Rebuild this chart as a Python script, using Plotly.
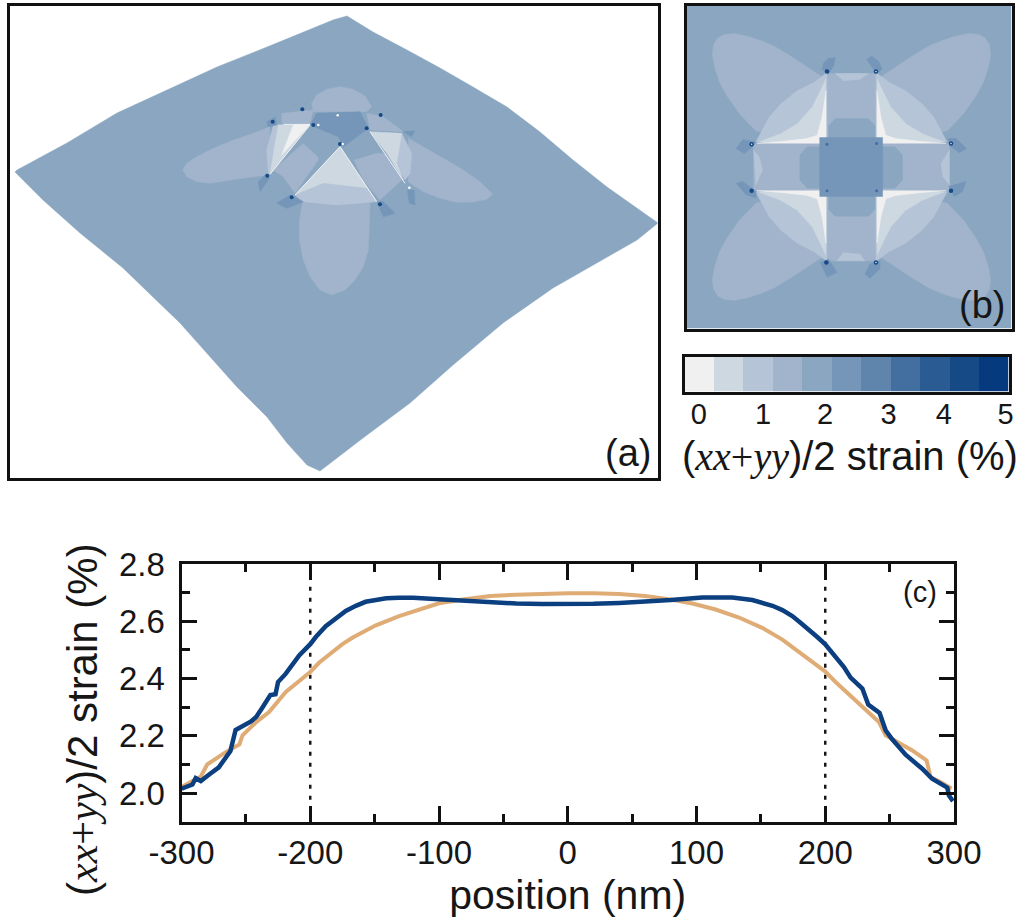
import plotly.graph_objects as go

W, H = 1021, 922
AX_FONT = "Liberation Sans, Arial, sans-serif"
INK = "#161616"

# strain colour levels (0 ... 5 %, 11 steps)
level_colors = ["#f0f0f0", "#ced8e1", "#b5c5d7", "#a1b4cb", "#8aa6c0", "#7596b9",
                "#5f85ad", "#426f9f", "#2a5b92", "#164a87", "#053a7e"]
L0, L1, L2, L3, L4, L5, L6, L7, L8, L9, L10 = level_colors
level_index = list(range(11))
cbar_tick_pos = [0.49, 2.67, 4.77, 6.93, 8.8, 10.9]
cbar_tick_text = ["0", "1", "2", "3", "4", "5"]

# panel (c): line profiles
blue_x = [-300, -291.5, -289, -285, -278.5, -271, -262, -258, -246, -242, -237, -231, -227, -225, -219,
          -208.6, -200, -195.7, -188, -180, -172.4, -164.6, -157, -149, -141, -131, -120, -100, -80, -60, -40,
          -20, 0, 20, 40, 60, 80, 104.5, 127.8, 143.4, 151, 159, 166.7, 174.4, 181, 187.4, 193.8, 199.8, 205.5,
          210.6, 214.5, 219.7, 228.8, 233.4, 242.2, 246.9, 252, 262.4, 275.3, 283, 294.8, 296, 299.2]
blue_y = [2.015, 2.03, 2.052, 2.042, 2.065, 2.09, 2.147, 2.22, 2.25, 2.266, 2.30, 2.342, 2.345, 2.388, 2.417,
          2.481, 2.52, 2.545, 2.583, 2.61, 2.636, 2.654, 2.668, 2.674, 2.68, 2.682, 2.682, 2.677, 2.672, 2.665,
          2.662, 2.66, 2.66, 2.661, 2.664, 2.668, 2.674, 2.683, 2.683, 2.674, 2.665, 2.654, 2.639, 2.618, 2.594,
          2.571, 2.545, 2.52, 2.49, 2.466, 2.44, 2.403, 2.365, 2.309, 2.28, 2.219, 2.188, 2.134, 2.085, 2.05,
          2.019, 1.992, 1.972]
orange_x = [-300, -291.5, -285, -280, -265.6, -255, -252.6, -242, -232, -219, -200, -193, -182.8, -175, -167,
            -158, -149, -131, -115, -100, -80, -60, -40, -20, 0, 20, 40, 60, 80, 96.8, 114.9, 133, 151, 166.7,
            175.7, 184.8, 192.5, 199.8, 208, 215.8, 223.6, 231.4, 241.7, 246.9, 257.2, 267.6, 278.7, 281.8,
            290.9, 298.1]
orange_y = [2.021, 2.042, 2.058, 2.10, 2.143, 2.17, 2.202, 2.248, 2.283, 2.353, 2.423, 2.456, 2.493, 2.52, 2.543,
            2.566, 2.586, 2.618, 2.64, 2.663, 2.677, 2.688, 2.693, 2.697, 2.698, 2.698, 2.695, 2.688, 2.676,
            2.662, 2.641, 2.613, 2.577, 2.536, 2.507, 2.476, 2.45, 2.425, 2.388, 2.355, 2.32, 2.289, 2.248,
            2.202, 2.175, 2.149, 2.114, 2.056, 2.035, 2.015]
guide_positions = [-200, 200]
c_x_ticks = [-300, -200, -100, 0, 100, 200, 300]
c_x_labels = ["-300", "-200", "-100", "0", "100", "200", "300"]
c_y_ticks = [2.0, 2.2, 2.4, 2.6, 2.8]
c_y_labels = ["2.0", "2.2", "2.4", "2.6", "2.8"]

# panel (a): tilted surface outline, then bump regions (painted in order)
surface_outline = [(347, 16), (373, 32), (407, 50), (440, 68), (473, 87), (507, 107), (540, 132), (573, 160),
                   (607, 187), (640, 210), (658, 223), (637, 240), (597, 263), (553, 288), (503, 323), (453, 365),
                   (410, 403), (363, 438), (320, 471), (307, 465), (287, 443), (267, 417), (237, 387), (207, 353),
                   (180, 323), (153, 297), (123, 268), (80, 233), (43, 200), (15, 172), (17, 170), (67, 143),
                   (117, 113), (167, 90), (217, 67), (267, 47), (333, 20)]
a_regions = [
    (L3, [(38, 270), (50, 250), (80, 230), (130, 205), (190, 180), (250, 160), (300, 140), (295, 285), (240, 292),
          (180, 302), (120, 310), (80, 305), (50, 290)]),
    (L3, [(715, 175), (760, 200), (820, 235), (880, 270), (930, 305), (968, 342), (950, 358), (910, 366), (860, 367),
          (810, 355), (760, 335), (715, 305)]),
    (L3, [(398, 365), (600, 365), (598, 450), (595, 510), (580, 560), (555, 600), (525, 630), (485, 645), (450, 630),
          (420, 590), (400, 540), (388, 480), (388, 420)]),
    (L3, [(425, 70), (440, 45), (470, 28), (510, 20), (550, 28), (585, 48), (605, 80), (590, 95), (430, 95)]),
    (L2, [(295, 285), (290, 210), (310, 135), (420, 132)]),
    (L1, [(300, 283), (325, 135), (420, 135)]),
    (L0, [(370, 135), (420, 133), (335, 225)]),
    (L1, [(510, 200), (620, 365), (375, 345)]),
    (L2, [(375, 345), (460, 310), (590, 325), (620, 365), (500, 375), (400, 365)]),
    (L2, [(695, 160), (725, 220), (720, 280), (705, 300), (660, 220)]),
    (L1, [(600, 155), (695, 160), (680, 250), (700, 300), (650, 220)]),
    (L3, [(310, 270), (400, 190), (440, 210), (445, 240), (375, 340), (340, 290)]),
    (L3, [(550, 235), (600, 220), (650, 220), (695, 300), (630, 360), (580, 300)]),
    (L4, [(420, 140), (510, 200), (450, 235), (400, 190)]),
    (L4, [(520, 200), (590, 155), (630, 215), (550, 240)]),
    (L5, [(440, 100), (570, 95), (595, 145), (520, 200), (505, 170), (420, 135)]),
    (L3, [(335, 100), (430, 90), (420, 130), (335, 130)]),
    (L3, [(590, 100), (640, 110), (700, 155), (600, 150)]),
    (L5, [(290, 125), (315, 112), (320, 135), (295, 140)]),
    (L5, [(265, 305), (290, 280), (298, 295), (270, 335)]),
    (L5, [(320, 370), (360, 345), (400, 365), (350, 385)]),
    (L5, [(620, 365), (640, 365), (675, 400), (640, 410)]),
    (L5, [(712, 330), (733, 330), (735, 375), (718, 370)]),
    (L5, [(700, 155), (735, 152), (725, 170)]),
]
a_white_edges = [[(300, 283), (420, 135)], [(510, 200), (375, 345)], [(510, 200), (620, 365)], [(600, 155), (705, 310)], [(340, 133), (420, 133)]]
a_dark_spots = [(430, 135), (292, 287), (365, 352), (630, 373), (510, 192), (590, 145), (397, 88), (632, 105), (308, 125)]
a_white_spots = [(445, 135), (503, 106), (518, 192), (718, 323)]

# panel (b): regions (painted in order)
b_center = (514, 501)
b_lobe = [(225, 392), (205, 370), (175, 340), (140, 290), (115, 245), (100, 200), (93, 160), (97, 130), (110, 110),
          (130, 100), (160, 97), (200, 105), (240, 118), (280, 135), (330, 165), (380, 198), (425, 228), (440, 425)]
b_wedge_outer = [(225, 425), (240, 395), (265, 350), (300, 310), (350, 270), (400, 245), (440, 215), (440, 428)]
b_wedge_mid = [(235, 425), (300, 400), (350, 370), (395, 320), (420, 270), (436, 235), (436, 428)]
b_wedge_white = [(228, 429), (300, 424), (380, 415), (410, 405), (425, 350), (437, 270), (437, 429)]
b_fixed = [
    (L3, [(440, 218), (590, 218), (590, 785), (440, 785)]),
    (L3, [(218, 430), (810, 430), (810, 575), (218, 575)]),
    (L2, [(465, 218), (565, 218), (540, 235), (490, 240)]),
    (L2, [(470, 785), (555, 785), (540, 765), (490, 760)]),
    (L2, [(218, 450), (235, 470), (245, 510), (225, 555)]),
    (L2, [(810, 450), (785, 490), (790, 530), (810, 555)]),
    (L4, [(445, 375), (465, 355), (565, 355), (585, 375), (585, 440), (645, 440), (668, 465), (668, 540), (645, 565),
          (585, 565), (585, 630), (565, 650), (465, 650), (445, 630), (445, 565), (380, 565), (358, 540), (358, 465),
          (380, 440), (445, 440)]),
    (L5, [(418, 412), (608, 412), (608, 590), (418, 590)]),
    (L5, [(425, 205), (430, 185), (445, 172), (465, 170), (460, 195), (445, 218)]),
    (L5, [(560, 175), (575, 166), (595, 180), (607, 205), (590, 218)]),
    (L5, [(165, 445), (185, 418), (225, 425), (215, 440), (190, 460)]),
    (L5, [(165, 550), (185, 545), (225, 575), (225, 595), (195, 585)]),
    (L5, [(805, 415), (830, 415), (862, 445), (840, 458), (815, 440)]),
    (L5, [(808, 560), (860, 545), (850, 575), (825, 590)]),
    (L5, [(420, 790), (445, 780), (470, 820), (440, 835)]),
    (L5, [(600, 785), (600, 810), (570, 838), (555, 825), (570, 795)]),
    (L5, [(425, 425), (445, 420), (462, 435), (445, 452)]),
    (L5, [(565, 440), (585, 420), (600, 425), (590, 450)]),
    (L5, [(430, 580), (445, 558), (460, 570), (445, 582)]),
    (L5, [(565, 565), (585, 555), (600, 575), (580, 582)]),
]
b_dark_spots = [(440, 212), (588, 212), (212, 432), (212, 573), (815, 430), (815, 573), (438, 790), (588, 790)]
b_inner_spots = [(440, 432), (590, 430), (440, 573), (590, 573)]
b_white_spots = [(212, 432), (588, 212), (815, 430), (588, 790)]

fig = go.Figure()


def dom_x(a, b):
    return [a / W, b / W]


def dom_y(top, bottom):
    return [1 - bottom / H, 1 - top / H]


def poly(points, color, ax, conv=lambda p: p):
    pts = [conv(p) for p in points]
    pts = pts + [pts[0]]
    fig.add_trace(go.Scatter(x=[p[0] for p in pts], y=[p[1] for p in pts], mode="lines", fill="toself",
                             fillcolor=color, line=dict(color=color, width=0.5), hoverinfo="skip",
                             showlegend=False, xaxis=ax[0], yaxis=ax[1]))


def spots(points, color, size, ax, conv=lambda p: p):
    pts = [conv(p) for p in points]
    fig.add_trace(go.Scatter(x=[p[0] for p in pts], y=[p[1] for p in pts], mode="markers",
                             marker=dict(color=color, size=size), hoverinfo="skip", showlegend=False,
                             xaxis=ax[0], yaxis=ax[1]))


# ---- panel (a)
A = ("x", "y")


def a_conv(p):
    return (170 + p[0] / 3, 80 + p[1] / 3)


poly(surface_outline, L4, A)
for color, pts in a_regions:
    poly(pts, color, A, a_conv)
for edge in a_white_edges:
    e = [a_conv(p) for p in edge]
    fig.add_trace(go.Scatter(x=[p[0] for p in e], y=[p[1] for p in e], mode="lines",
                             line=dict(color="#eef1f4", width=1), hoverinfo="skip", showlegend=False))
spots(a_dark_spots, L9, 4, A, a_conv)
spots(a_white_spots, "#ffffff", 2.5, A, a_conv)

# ---- panel (b)
B = ("x2", "y2")
fig.add_trace(go.Scatter(x=[15, 998, 998, 15, 15], y=[12, 12, 990, 990, 12], mode="lines", fill="toself",
                         fillcolor=L4, line=dict(color=L4, width=0), hoverinfo="skip", showlegend=False,
                         xaxis="x2", yaxis="y2"))


def mirrored(points):
    cx, cy = b_center
    return [points,
            [(2 * cx - x, y) for x, y in points],
            [(x, 2 * cy - y) for x, y in points],
            [(2 * cx - x, 2 * cy - y) for x, y in points]]


for m in mirrored(b_lobe):
    poly(m, L3, B)
for col, pts in b_fixed[:6]:
    poly(pts, col, B)
for shape_pts, col in [(b_wedge_outer, L2), (b_wedge_mid, L1), (b_wedge_white, L0)]:
    for m in mirrored(shape_pts):
        poly(m, col, B)
for col, pts in b_fixed[6:]:
    poly(pts, col, B)
spots(b_inner_spots, L7, 3, B)
spots(b_dark_spots, L9, 4.5, B)
spots(b_white_spots, "#e8eef3", 1.5, B)

# ---- colour bar
fig.add_trace(go.Heatmap(z=[level_index], x=[i + 0.5 for i in level_index], y=[0], zmin=0, zmax=10,
                         colorscale=[[i / 10, c] for i, c in enumerate(level_colors)], showscale=False,
                         hoverinfo="skip", xaxis="x3", yaxis="y3"))

# ---- panel (c)
for gx in guide_positions:
    fig.add_trace(go.Scatter(x=[gx, gx], y=[1.9, 2.8], mode="lines",
                             line=dict(color=INK, width=2.5, dash="4px,7px"), hoverinfo="skip",
                             showlegend=False, xaxis="x4", yaxis="y4"))
fig.add_trace(go.Scatter(x=orange_x, y=orange_y, mode="lines", line=dict(color="#e0ac76", width=4),
                         showlegend=False, xaxis="x4", yaxis="y4"))
fig.add_trace(go.Scatter(x=blue_x, y=blue_y, mode="lines", line=dict(color="#0b3f80", width=4.5),
                         showlegend=False, xaxis="x4", yaxis="y4"))

frame = dict(showline=True, mirror=True, linecolor="#111111", linewidth=3, showgrid=False, zeroline=False, automargin=False)
blank = dict(frame, showticklabels=False, ticks="")
RT = "(<span style=\"font-family:'Liberation Serif'\"><i>xx</i>+<i>yy</i></span>)/2 strain (%)"
centered = dict(xref="paper", yref="paper", showarrow=False, xanchor="center", yanchor="middle")

fig.update_layout(
    width=W, height=H, margin=dict(l=0, r=0, t=0, b=0), paper_bgcolor="white", plot_bgcolor="white",
    font=dict(family=AX_FONT, color=INK), showlegend=False,
    xaxis=dict(blank, domain=dom_x(9.5, 657.5), range=[9.5, 657.5], anchor="y"),
    yaxis=dict(blank, domain=dom_y(5.5, 478), range=[478, 5.5], anchor="x"),
    xaxis2=dict(blank, domain=dom_x(686.5, 1011.5), range=[15, 998], anchor="y2"),
    yaxis2=dict(blank, domain=dom_y(5.5, 328.5), range=[990, 12], anchor="x2"),
    xaxis3=dict(frame, domain=dom_x(684.5, 1008.5), range=[0, 11], tickmode="array", tickvals=cbar_tick_pos, anchor="y3",
                ticktext=cbar_tick_text, ticks="", tickfont=dict(size=29), ticklabelstandoff=-5),
    yaxis3=dict(blank, domain=dom_y(356.5, 391.5), range=[-0.5, 0.5], anchor="x3"),
    xaxis4=dict(frame, domain=dom_x(181.5, 954), range=[-300, 300], tickmode="array", tickvals=c_x_ticks, anchor="y4",
                ticktext=c_x_labels, ticks="inside", ticklen=16, tickwidth=2.5, tickcolor="#111111", mirror="allticks",
                tickfont=dict(size=33), ticklabelstandoff=0,
                minor=dict(tickvals=[-250, -150, -50, 50, 150, 250], ticks="inside", ticklen=8, tickwidth=2.5, tickcolor="#111111"),
                title=dict(text="position (nm)", font=dict(size=41), standoff=11)),
    yaxis4=dict(frame, domain=dom_y(564, 821.7), range=[1.9, 2.8], tickmode="array", tickvals=c_y_ticks, anchor="x4",
                ticktext=c_y_labels, ticks="inside", ticklen=15, tickwidth=2.5, tickcolor="#111111", mirror="allticks",
                tickfont=dict(size=33), ticklabelstandoff=7,
                minor=dict(tickvals=[1.9, 2.1, 2.3, 2.5, 2.7], ticks="inside", ticklen=8, tickwidth=2.5, tickcolor="#111111")),
    annotations=[
        dict(centered, text="(a)", x=628 / W, y=1 - 453 / H, font=dict(size=38)),
        dict(centered, text="(b)", x=982 / W, y=1 - 305 / H, font=dict(size=38)),
        dict(centered, text="(c)", x=920 / W, y=1 - 592 / H, font=dict(size=29)),
        dict(centered, text=RT, x=850 / W, y=1 - 456 / H, font=dict(size=40)),
        dict(centered, text=RT, x=82 / W, y=1 - 720 / H, textangle=-90, font=dict(size=42)),
    ],
)

fig.write_html("out.html", config=dict(displayModeBar=False),
               post_script="document.body.style.margin='0';document.documentElement.style.overflow='hidden';")
